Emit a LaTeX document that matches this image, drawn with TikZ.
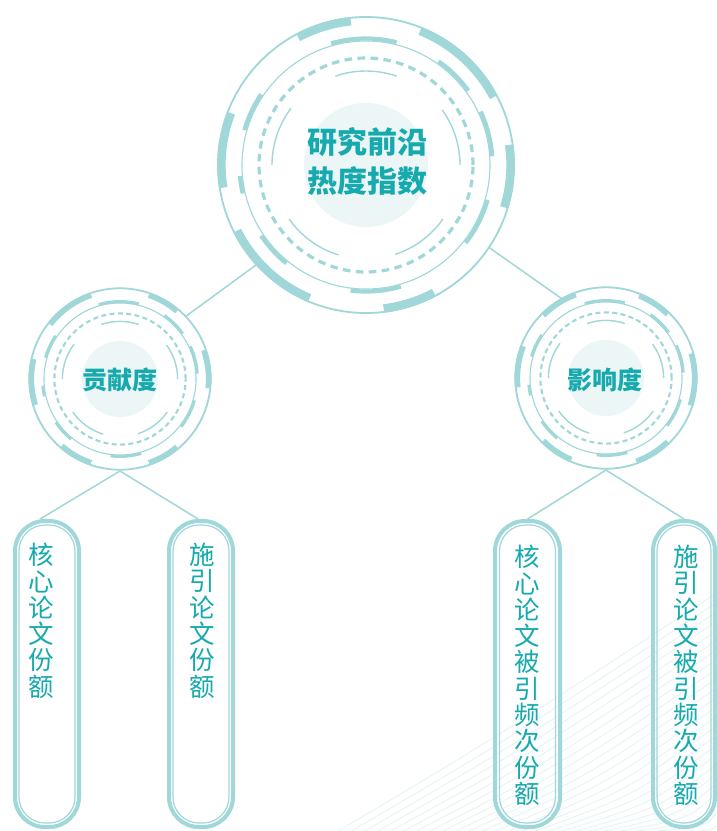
\documentclass[tikz,border=0pt]{standalone}
\usepackage{fontspec}
\newfontfamily\cjk{Noto Sans CJK SC}
\definecolor{ringc}{RGB}{160,215,216}
\definecolor{textc}{RGB}{22,170,174}
\definecolor{fillc}{RGB}{236,246,247}
\definecolor{bgl}{RGB}{230,244,244}
% #1 x, #2 y, #3 scale, #4 outer thick arcs, #5 second ring thick arcs
\newcommand\ringdeco[5]{%
\begin{scope}[shift={(#1,#2)}]
\pgfmathsetmacro\rO{148*#3}
\pgfmathsetmacro\rT{144.5*#3}
\pgfmathsetmacro\wT{7.5*#3+0.8}
\pgfmathsetmacro\rS{124*#3}
\pgfmathsetmacro\rST{126.5*#3}
\pgfmathsetmacro\wS{3.6*#3+0.6}
\pgfmathsetmacro\rD{107*#3}
\pgfmathsetmacro\dOn{7*#3+0.6}
\pgfmathsetmacro\dOff{5*#3+0.4}
\pgfmathsetmacro\wD{2.8*#3+0.4}
\pgfmathsetmacro\rI{94*#3}
\pgfmathsetmacro\rF{62*#3}
\fill[fillc] (0,0) circle[radius=\rF];
\draw[ringc, line width=1.8] (0,0) circle[radius=\rO];
\foreach \a/\b in {#4} \draw[ringc, line width=\wT] (\a:\rT) arc[start angle=\a, end angle=\b, radius=\rT];
\draw[ringc, line width=1.1] (0,0) circle[radius=\rS];
\foreach \a/\b in {#5} \draw[ringc, line width=\wS] (\a:\rST) arc[start angle=\a, end angle=\b, radius=\rST];
\draw[ringc, line width=\wD, dash pattern=on \dOn pt off \dOff pt] (0,0) circle[radius=\rD];
\foreach \a/\b in {71/109, 0/36, 143/180, 215/253, 288/325} \draw[ringc, line width=1.4] (\a:\rI) arc[start angle=\a, end angle=\b, radius=\rI];
\end{scope}}
\begin{document}
\begin{tikzpicture}[x=1pt,y=1pt,
  conn/.style={ringc, line width=1.5},
  bigtitle/.style={circle, inner sep=0pt, outer sep=0pt, text=textc, align=center,
    font=\cjk\bfseries\fontsize{30}{39}\selectfont},
  subtitle/.style={circle, inner sep=0pt, outer sep=0pt, text=textc, align=center,
    font=\cjk\bfseries\fontsize{25}{30}\selectfont},
  pill/.style={draw=ringc, line width=4, rounded corners=30pt, minimum width=64pt,
    minimum height=306pt, inner sep=0pt},
  pillin/.style={draw=ringc, line width=1.2, rounded corners=26pt},
  vtext/.style={text=textc, align=center, inner sep=0pt, anchor=north,
    font=\cjk\fontsize{25.5}{26.3}\selectfont},
  bgline/.style={bgl, line width=0.9}
]
\useasboundingbox (0,0) rectangle (716,-831);
\fill[white] (0,0) rectangle (716,-831);
% background swoosh
\begin{scope}
\clip (0,0) rectangle (716,-831);
\foreach \i in {0,...,26}
  \draw[bgline] (335+13*\i,-833) .. controls (500+9*\i,-735-4*\i) .. (718,-592-9.5*\i);
\end{scope}
% ring decorations
\ringdeco{366}{-165}{1}{28/68, 96/118, 159/189, 207/247, 277/298, -17/8}{76/106, 36/55, 4/25, -38/-16, -97/-74, -146/-129, 146/164, 185/193}
\ringdeco{120}{-379}{0.613}{50/71, 109/142, 167/197, 229/251, 289/310, -6/19}{76/106, 36/55, 4/25, -38/-16, -97/-74, -146/-129, 146/164, 185/193}
\ringdeco{606}{-378}{0.613}{46/68, 110/135, 159/186, 225/247, 290/314, -18/16}{76/106, 36/55, 4/25, -38/-16, -97/-74, -146/-129, 146/164, 185/193}
% titles
\node[bigtitle, minimum size=296pt] (T) at (367,-162) {研究前沿\\热度指数};
\node[subtitle, minimum size=184pt] (L) at (120,-380) {贡献度};
\node[subtitle, minimum size=184pt] (R) at (605,-380) {影响度};
% boxes
\node[pill] (b1) at (47,-674) {};
\node[pill] (b2) at (201,-674) {};
\node[pill, minimum width=65pt] (b3) at (527.5,-674) {};
\node[pill, minimum width=62pt] (b4) at (684,-674) {};
\draw[pillin] (19,-525) rectangle (75,-823);
\draw[pillin] (173,-525) rectangle (229,-823);
\draw[pillin] (499.5,-525) rectangle (555.5,-823);
\draw[pillin] (657,-525) rectangle (711,-823);
% texts
\node[vtext] (t1) at (41.5,-543) {核\\心\\论\\文\\份\\额};
\node[vtext] (t2) at (202,-543) {施\\引\\论\\文\\份\\额};
\node[vtext] (t3) at (527,-545) {核\\心\\论\\文\\被\\引\\频\\次\\份\\额};
\node[vtext] (t4) at (686,-545) {施\\引\\论\\文\\被\\引\\频\\次\\份\\额};
% connectors
\coordinate (Lb) at (120,-471);
\coordinate (Rb) at (606,-470);
\draw[conn] (T.223) -- (L.44);
\draw[conn] (T.-35) -- (R.118);
\draw[conn] (Lb) -- ([xshift=-7pt]b1.north);
\draw[conn] (Lb) -- ([xshift=-3pt]b2.north);
\draw[conn] (Rb) -- (b3.north);
\draw[conn] (Rb) -- (b4.north);
\end{tikzpicture}
\end{document}
